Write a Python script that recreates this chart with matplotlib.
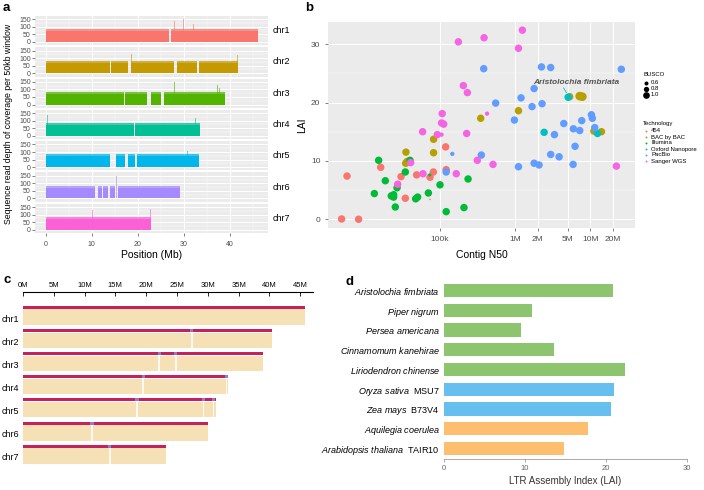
import numpy as np
import matplotlib
matplotlib.use("Agg")
import matplotlib.pyplot as plt

plt.rcParams['font.family'] = ['Liberation Sans', 'DejaVu Sans']
plt.rcParams['mathtext.fontset'] = 'custom'
plt.rcParams['mathtext.rm'] = 'Liberation Sans'
plt.rcParams['mathtext.it'] = 'Liberation Sans:italic'
plt.rcParams['mathtext.bf'] = 'Liberation Sans:bold'

# ---------------- data ----------------
chroms = ['chr1', 'chr2', 'chr3', 'chr4', 'chr5', 'chr6', 'chr7']
chr_colors = ['#F8766D', '#C49A00', '#53B400', '#00C094', '#00B6EB', '#A58AFF', '#FB61D7']

# panel a: coverage per chromosome (Mb)
chr_len_a = [46.1, 41.8, 38.9, 33.5, 33.2, 29.2, 22.9]
depth_a = [82, 78, 78, 80, 80, 78, 80]
gaps_a = [
    [(26.8, 27.2)],
    [(13.9, 14.1), (17.9, 18.4), (27.8, 28.5), (32.8, 33.2)],
    [(16.9, 17.1), (21.9, 22.8), (25.1, 25.6)],
    [(19.2, 19.4)],
    [(13.9, 15.2), (17.1, 17.8), (19.4, 19.8)],
    [(10.8, 11.4), (12.2, 12.5), (13.6, 14.0), (15.1, 15.7)],
    [],
]
spikes_a = [
    [(28.0, 140), (29.9, 150), (32.0, 120), (45.8, 120)],
    [(14.2, 150), (18.1, 150), (18.6, 130), (41.6, 120)],
    [(27.9, 150), (37.3, 130), (37.7, 110)],
    [(0.4, 140), (32.5, 120)],
    [(30.8, 110), (32.6, 130)],
    [(12.0, 130), (15.3, 150), (27.2, 120)],
    [(10.2, 130), (14.2, 110), (22.8, 140)],
]

# panel b: contig N50 vs LAI
tech_names = ['454', 'BAC by BAC', 'Illumina', 'Oxford Nanopore', 'PacBio', 'Sanger WGS']
tech_colors = ['#F8766D', '#B79F00', '#00BA38', '#00BFC4', '#619CFF', '#F564E3']
n50_454 = [5.0e3, 8.4e3, 5.9e3, 1.65e4, 3.07e4, 3.5e4, 4.95e4, 7.45e4, 8.24e4, 1.2e5, 1.22e5, 7.45e4]
lai_454 = [0.05, 0.0, 7.4, 8.9, 7.3, 3.6, 7.6, 7.2, 8.1, 12.4, 8.5, 3.4]
busco_454 = [0.95, 0.95, 0.95, 0.95, 0.95, 0.95, 0.95, 0.95, 0.95, 0.95, 0.95, 0.2]
n50_bac = [7.2e6, 7.8e6, 5.3e6, 1.11e6, 3.5e5, 8.3e4, 8.3e4, 3.57e4, 3.54e4, 3.7e4, 1.4e7, 1.11e7]
lai_bac = [21.1, 21.0, 21.0, 18.6, 17.3, 13.7, 11.4, 11.5, 9.6, 9.9, 15.0, 15.1]
busco_bac = [1.1, 1.1, 0.95, 0.95, 0.95, 0.95, 0.95, 0.95, 0.95, 0.95, 0.95, 0.95]
n50_ill = [1.55e4, 4.04e4, 3.5e4, 1.9e4, 2.72e4, 1.36e4, 2.28e4, 2.45e4, 2.45e4, 2.58e4,
           4.8e4, 5.1e4, 7.08e4, 1.01e5, 2.38e5, 1.22e5, 2.1e5, 7.4e4]
lai_ill = [10.1, 10.1, 8.1, 6.6, 5.4, 4.4, 4.0, 4.2, 3.8, 2.1, 3.5, 3.8, 4.5, 5.9, 6.9, 1.3, 2.0, 7.6]
busco_ill = [0.95] * 17 + [0.4]
n50_ont = [5.06e6, 2.43e6, 1.24e7]
lai_ont = [20.9, 14.9, 14.7]
busco_ont = [0.95, 0.95, 0.95]
n50_pac = [2.57e7, 2.24e6, 2.97e6, 3.84e5, 1.79e6, 5.53e5, 1.2e6, 1.68e6, 2.28e6, 9.8e5,
           1.03e7, 1.06e7, 7.67e6, 4.43e6, 5.94e6, 7.21e6, 1.14e7, 3.33e6, 6.25e6, 3.57e5,
           2.97e6, 3.84e6, 1.11e6, 1.79e6, 2.08e6, 5.89e6, 1.47e5, 1.22e5]
lai_pac = [25.7, 26.1, 26.0, 25.8, 22.4, 19.9, 20.8, 19.3, 19.8, 17.0,
           17.9, 17.3, 16.9, 16.4, 15.5, 15.2, 15.7, 14.5, 12.5, 11.0,
           11.1, 10.7, 9.0, 9.6, 9.3, 9.4, 11.2, 8.1]
busco_pac = [0.95] * 26 + [0.55, 0.95]
n50_san = [1.25e6, 3.88e5, 1.77e5, 1.11e6, 2.06e5, 2.33e5, 1.08e5, 4.25e5, 1.06e5, 1.13e5,
           5.94e4, 9.3e4, 1.06e5, 2.28e5, 4.12e4, 3.16e5, 5.1e5, 6.0e4, 1.66e5, 2.77e4, 2.21e7]
lai_san = [32.4, 31.1, 30.4, 29.3, 22.9, 21.7, 18.1, 18.1, 16.5, 16.3,
           15.0, 14.5, 14.5, 14.7, 9.7, 10.1, 9.4, 7.8, 7.8, 6.0, 9.1]
busco_san = [0.95] * 7 + [0.55, 0.95, 0.95, 0.95, 0.95, 0.55] + [0.95] * 8
tech_n50 = [n50_454, n50_bac, n50_ill, n50_ont, n50_pac, n50_san]
tech_lai = [lai_454, lai_bac, lai_ill, lai_ont, lai_pac, lai_san]
tech_busco = [busco_454, busco_bac, busco_ill, busco_ont, busco_pac, busco_san]
n50_ticks = [1e5, 1e6, 2e6, 5e6, 1e7, 2e7]
n50_ticklabels = ['100k', '1M', '2M', '5M', '10M', '20M']

# panel c: chromosome lengths (Mb) and gap marks
chr_len_c = [45.8, 40.5, 38.9, 33.2, 31.3, 30.0, 23.2]
gaps_c = [[], [27.4], [22.1, 24.8], [19.5, 33.0], [18.5, 29.3, 30.9], [11.2], [14.1]]
c_ticks = [0, 5, 10, 15, 20, 25, 30, 35, 40, 45]

# panel d: LAI of selected genomes
species_d = ['Aristolochia fimbriata', 'Piper nigrum', 'Persea americana', 'Cinnamomum kanehirae',
             'Liriodendron chinense', 'Oryza sativa', 'Zea mays', 'Aquilegia coerulea',
             'Arabidopsis thaliana']
version_d = ['', '', '', '', '', 'MSU7', 'B73V4', '', 'TAIR10']
lai_d = [20.9, 10.9, 9.5, 13.6, 22.4, 21.0, 20.6, 17.8, 14.8]
group_d = ['magnoliid'] * 5 + ['monocot'] * 2 + ['eudicot'] * 2
group_colors = {'magnoliid': '#8CC56E', 'monocot': '#66BFEF', 'eudicot': '#FDBF6F'}

# ---------------- layout ----------------
W, H = 704, 490
fig = plt.figure(figsize=(W / 100, H / 100), dpi=100)


def px_axes(x0, y0, x1, y1):
    return fig.add_axes([x0 / W, 1 - y1 / H, (x1 - x0) / W, (y1 - y0) / H])


def gg_style(ax):
    ax.set_facecolor('#EBEBEB')
    for s in ax.spines.values():
        s.set_visible(False)
    ax.tick_params(colors='#4D4D4D', labelcolor='#4D4D4D', labelsize=5, length=2, width=0.5)
    ax.set_axisbelow(True)


# ---- panel a ----
top, bottom, gap = 16, 233, 2
sh = (bottom - top - gap * 6) / 7
for i, name in enumerate(chroms):
    y0 = top + i * (sh + gap)
    ax = px_axes(35, y0, 268, y0 + sh)
    gg_style(ax)
    ax.set_xlim(-2.3, 48.2)
    ax.set_ylim(-22, 172)
    ax.set_xticks([0, 10, 20, 30, 40])
    ax.set_xticks([5, 15, 25, 35, 45], minor=True)
    ax.set_yticks([0, 50, 100, 150])
    ax.set_yticks([25, 75, 125], minor=True)
    ax.grid(True, which='major', color='white', lw=0.7)
    ax.grid(True, which='minor', color='white', lw=0.35)
    ax.tick_params(which='minor', length=0)
    ax.tick_params(axis='y', pad=1)
    segs = []
    start = 0.05
    for g0, g1 in gaps_a[i]:
        segs.append((start, g0 - start))
        start = g1
    segs.append((start, chr_len_a[i] - start))
    ax.broken_barh(segs, (0, depth_a[i] - 8), facecolor=chr_colors[i], lw=0)
    ax.broken_barh(segs, (depth_a[i] - 8, 14), facecolor=chr_colors[i], alpha=0.75, lw=0)
    sx = [p for p, h in spikes_a[i]]
    sy = [h for p, h in spikes_a[i]]
    ax.bar(sx, sy, width=0.15, color=chr_colors[i], alpha=0.6, lw=0)
    if i < 6:
        ax.tick_params(axis='x', labelbottom=False, length=0)
    else:
        ax.set_xlabel('Position (Mb)', fontsize=7.5, labelpad=2, color='black')
    ax.text(1.02, 0.5, name, transform=ax.transAxes, fontsize=6.5, va='center', ha='left')

fig.text(9 / W, 1 - 124 / H, 'Sequence read depth of coverage per 50kb window',
         rotation=90, fontsize=6.3, va='center', ha='center')

# ---- panel b ----
axb = px_axes(328, 22, 635, 228)
gg_style(axb)
axb.set_xscale('log')
axb.set_xlim(3.3e3, 3.9e7)
axb.set_ylim(-1.5, 33.8)
axb.set_xticks(n50_ticks)
axb.set_xticklabels(n50_ticklabels)
axb.xaxis.set_minor_locator(matplotlib.ticker.NullLocator())
axb.set_yticks([0, 10, 20, 30])
axb.set_yticks([5, 15, 25], minor=True)
axb.grid(True, which='major', color='white', lw=0.7)
axb.grid(True, which='minor', axis='y', color='white', lw=0.35)
axb.tick_params(which='minor', length=0)
axb.tick_params(labelsize=6)
for k in range(6):
    sizes = [32 * b ** 2 for b in tech_busco[k]]
    axb.scatter(tech_n50[k], tech_lai[k], s=sizes, color=tech_colors[k], lw=0, zorder=3)
axb.set_xlabel('Contig N50', fontsize=7.5, labelpad=5)
axb.set_ylabel('LAI', fontsize=7.5, labelpad=3)
axb.text(6.4e6, 23.4, 'Aristolochia fimbriata', fontsize=6, fontweight='bold', style='italic',
         color='#555555', ha='center', va='center', zorder=4)
axb.plot([4.4e6, 4.8e6], [22.5, 21.7], color='#00BFC4', lw=0.6, zorder=4)

# legends for panel b
leg = px_axes(638, 60, 704, 175)
leg.set_xlim(638, 704)
leg.set_ylim(175, 60)
leg.axis('off')
fs_leg = 4.3
leg.text(643, 75, 'BUSCO', fontsize=fs_leg, va='center')
for j, b in enumerate([0.6, 0.8, 1.0]):
    leg.scatter(646, 83 + j * 6, s=32 * (b * 0.85) ** 2, color='black', lw=0)
    leg.text(651, 83 + j * 6, '%.1f' % b, fontsize=fs_leg, va='center')
leg.text(643, 123, 'Technology', fontsize=fs_leg, va='center')
for j, t in enumerate(tech_names):
    leg.scatter(646, 131 + j * 6, s=2, color=tech_colors[j], lw=0)
    leg.text(651, 131 + j * 6, t, fontsize=fs_leg, va='center')

# ---- panel c ----
axc = px_axes(23, 292, 313, 470)
axc.set_xlim(0, (313 - 23) / 6.16)
axc.set_ylim(178, 0)
for s in ['left', 'right', 'bottom']:
    axc.spines[s].set_visible(False)
axc.spines['top'].set_linewidth(0.8)
axc.xaxis.tick_top()
axc.set_xticks(c_ticks)
axc.set_xticklabels(['%dM' % t for t in c_ticks])
axc.tick_params(axis='x', direction='in', length=3, width=0.6, labelsize=5.5, pad=2)
axc.set_yticks([])
for i, name in enumerate(chroms):
    y0 = 14 + i * 23.1
    axc.add_patch(plt.Rectangle((0, y0), chr_len_c[i], 3, color='#C8205A', lw=0))
    axc.add_patch(plt.Rectangle((0, y0 + 3.5), chr_len_c[i], 15.5, color='#F6E0B5', lw=0))
    for g in gaps_c[i]:
        axc.add_patch(plt.Rectangle((g - 0.25, y0), 0.5, 3, color='#8C7FD0', lw=0))
        axc.add_patch(plt.Rectangle((g - 0.12, y0 + 3.5), 0.24, 15.5, color='white', alpha=0.8, lw=0))
    axc.text(-0.6, y0 + 13, name, fontsize=6.5, ha='right', va='center')

# ---- panel d ----
axd = px_axes(444, 281, 687, 459)
ypos = np.arange(len(species_d))
axd.barh(ypos, lai_d, height=0.67, color=[group_colors[g] for g in group_d], lw=0)
axd.set_ylim(8.53, -0.48)
axd.set_xlim(0, 30)
axd.set_xticks([0, 10, 20, 30])
axd.tick_params(axis='x', labelsize=5.5, labelcolor='#666666', length=2, width=0.5,
                color='#888888', pad=2)
axd.tick_params(axis='y', length=0, pad=3)
labels = []
for sp, v in zip(species_d, version_d):
    lab = r'$\it{' + sp.replace(' ', r'\ ') + '}$'
    if v:
        lab += '  ' + v
    labels.append(lab)
axd.set_yticks(ypos)
axd.set_yticklabels(labels, fontsize=6.5)
for s in ['left', 'right', 'top']:
    axd.spines[s].set_visible(False)
axd.spines['bottom'].set_linewidth(0.5)
axd.spines['bottom'].set_color('#888888')
axd.set_xlabel('LTR Assembly Index (LAI)', fontsize=7, labelpad=3, color='#333333')

# panel letters
for letter, x, y in [('a', 3, 2), ('b', 305, 2), ('c', 3, 274), ('d', 345, 276)]:
    fig.text(x / W, 1 - y / H, letter, fontsize=9.5, fontweight='bold', va='top', ha='left')

fig.savefig('out.png', dpi=100)
